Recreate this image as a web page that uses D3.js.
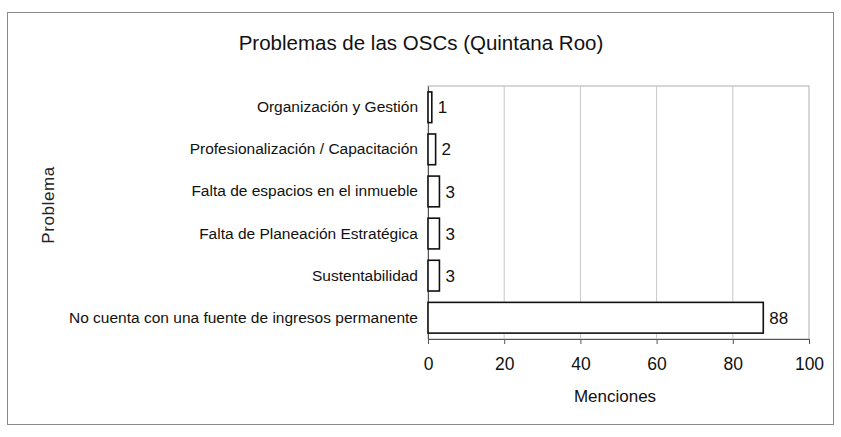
<!DOCTYPE html>
<html lang="en">
<head>
<meta charset="utf-8">
<script src="https://d3js.org/d3.v7.min.js"></script>
<style type="text/css">
body {
	margin: 0;
	background: #fff;
	font-family: "Liberation Sans", Arial, sans-serif;
}
</style>
</head>
<body>
<script type="text/javascript">

// data
var categories = [
	"Organización y Gestión",
	"Profesionalización / Capacitación",
	"Falta de espacios en el inmueble",
	"Falta de Planeación Estratégica",
	"Sustentabilidad",
	"No cuenta con una fuente de ingresos permanente"
];
var menciones = [1, 2, 3, 3, 3, 88];
var xTicks = [0, 20, 40, 60, 80, 100];

var width = 841;
var height = 437;

var margin = {left: 428, right: 32, top: 86, bottom: 98};

var svg = d3.select("body")
	.append("svg")
	.attr("width", width)
	.attr("height", height);

// chart frame
svg.append("rect")
	.attr("x", 7.5)
	.attr("y", 12.5)
	.attr("width", 826)
	.attr("height", 412)
	.attr("fill", "none")
	.attr("stroke", "#8a8a8a")
	.attr("stroke-width", 1);

var x = d3.scaleLinear()
	.domain([0, 100])
	.range([margin.left, width - margin.right]);

var y = d3.scaleBand()
	.domain(categories)
	.range([margin.top, height - margin.bottom])
	.paddingInner(0.27)
	.paddingOuter(0.14);

// plot area border
svg.append("rect")
	.attr("x", x(0))
	.attr("y", margin.top)
	.attr("width", x(100) - x(0))
	.attr("height", height - margin.bottom - margin.top)
	.attr("fill", "none")
	.attr("stroke", "#b0b0b0");

// gridlines
svg.selectAll(".grid")
	.data(xTicks.slice(1, -1))
	.enter()
	.append("line")
	.attr("x1", function(d) { return x(d); })
	.attr("x2", function(d) { return x(d); })
	.attr("y1", margin.top)
	.attr("y2", height - margin.bottom)
	.attr("stroke", "#c8c8c8");

// x axis
var xAxis = svg.append("g")
	.attr("transform", "translate(0," + (height - margin.bottom) + ")")
	.call(d3.axisBottom(x).tickValues(xTicks).tickSize(5).tickPadding(14));
xAxis.select(".domain").attr("stroke", "#555");
xAxis.selectAll(".tick line").attr("stroke", "#555");
xAxis.selectAll("text")
	.attr("fill", "#111")
	.style("font-size", "17.5px")
	.style("font-family", "'Liberation Sans', Arial, sans-serif");

// y axis
var yAxis = svg.append("g")
	.attr("transform", "translate(" + x(0) + ",0)")
	.call(d3.axisLeft(y).tickSize(0).tickPadding(10));
yAxis.select(".domain").attr("stroke", "#555");
yAxis.selectAll("text")
	.attr("fill", "#111")
	.style("font-size", "15.5px")
	.style("font-family", "'Liberation Sans', Arial, sans-serif");

// bars
svg.selectAll(".bar")
	.data(menciones)
	.enter()
	.append("rect")
	.attr("x", x(0))
	.attr("y", function(d, i) { return y(categories[i]); })
	.attr("width", function(d) { return x(d) - x(0); })
	.attr("height", y.bandwidth())
	.attr("fill", "#fff")
	.attr("stroke", "#111")
	.attr("stroke-width", 1.6);

// value labels
svg.selectAll(".val")
	.data(menciones)
	.enter()
	.append("text")
	.attr("x", function(d) { return x(d) + 6; })
	.attr("y", function(d, i) { return y(categories[i]) + y.bandwidth() / 2; })
	.attr("dy", ".36em")
	.style("font-size", "17px")
	.attr("fill", "#111")
	.text(function(d) { return d; });

// title
svg.append("text")
	.attr("x", 421)
	.attr("y", 50)
	.attr("text-anchor", "middle")
	.style("font-size", "20.5px")
	.attr("fill", "#111")
	.text("Problemas de las OSCs (Quintana Roo)");

// axis titles
svg.append("text")
	.attr("x", 615)
	.attr("y", 402)
	.attr("text-anchor", "middle")
	.style("font-size", "17px")
	.attr("fill", "#111")
	.text("Menciones");

svg.append("text")
	.attr("transform", "translate(54,205) rotate(-90)")
	.attr("text-anchor", "middle")
	.style("font-size", "17px")
	.style("letter-spacing", "0.6px")
	.attr("fill", "#222")
	.text("Problema");

</script>
</body>
</html>
